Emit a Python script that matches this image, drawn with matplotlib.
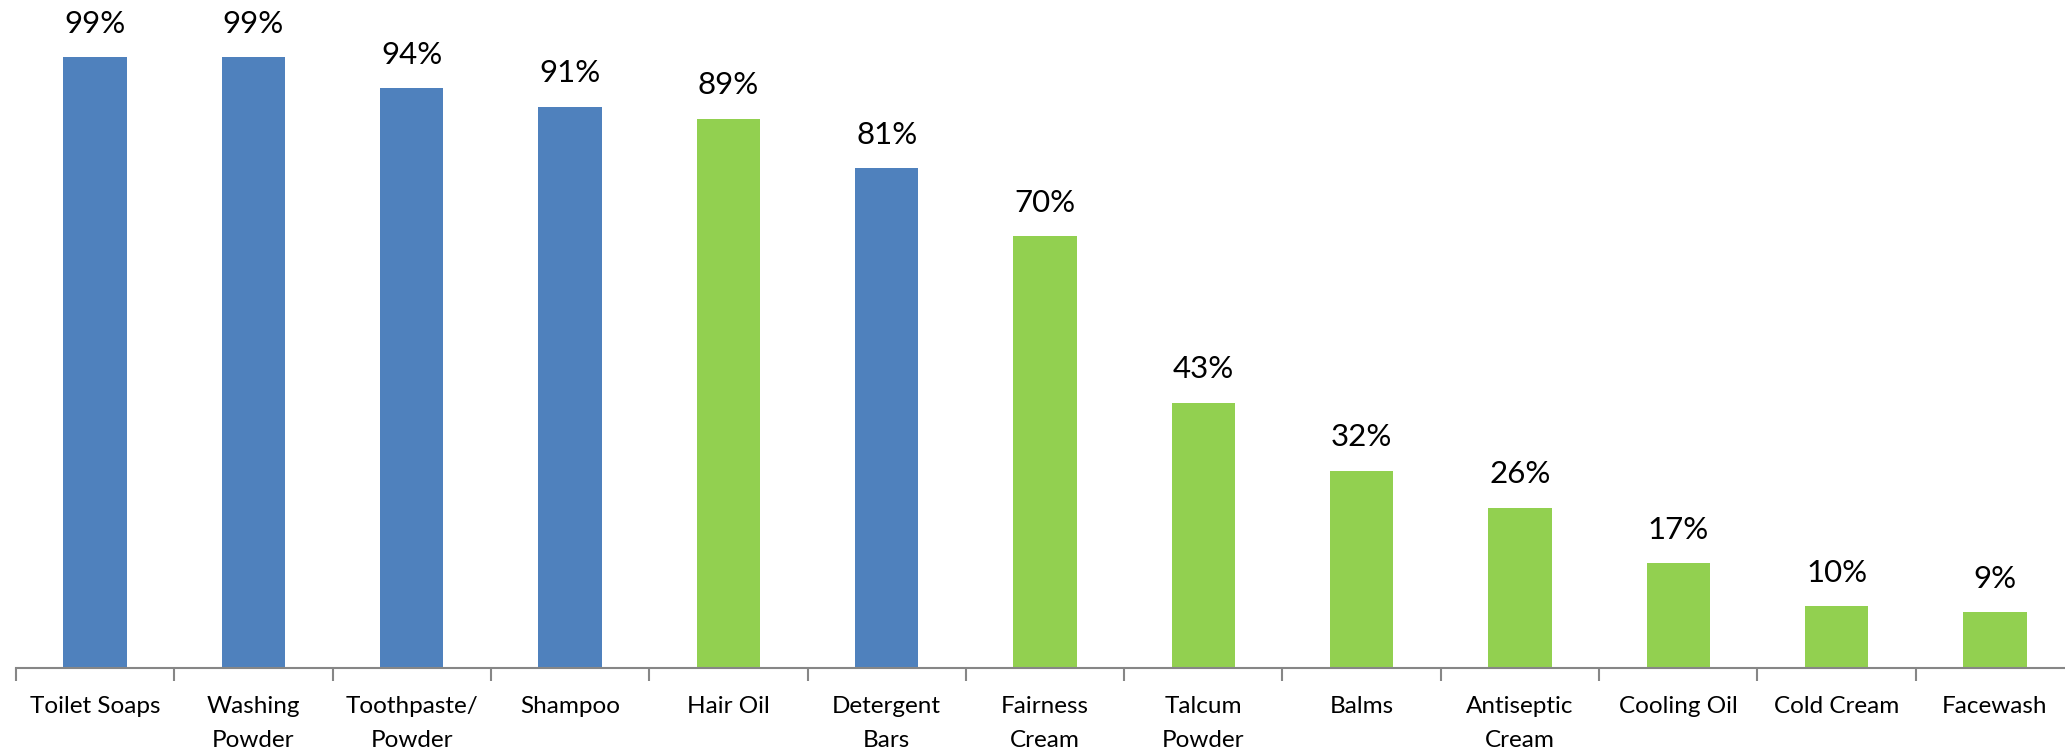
import matplotlib.pyplot as plt
from matplotlib.ticker import FixedLocator

plt.rcParams['font.family'] = ['Lato', 'DejaVu Sans']

# Share of households using each product (%)
categories = ['Toilet Soaps', 'Washing\nPowder', 'Toothpaste/\nPowder', 'Shampoo',
              'Hair Oil', 'Detergent\nBars', 'Fairness\nCream', 'Talcum\nPowder',
              'Balms', 'Antiseptic\nCream', 'Cooling Oil', 'Cold Cream', 'Facewash']
values = [99, 99, 94, 91, 89, 81, 70, 43, 32, 26, 17, 10, 9]
groups = ['blue', 'blue', 'blue', 'blue', 'green', 'blue', 'green', 'green',
          'green', 'green', 'green', 'green', 'green']

palette = {'blue': '#4F81BD', 'green': '#92D050'}
colors = [palette[g] for g in groups]

W, H = 2065, 751
fig = plt.figure(figsize=(W / 100, H / 100), dpi=100)
ax = fig.add_axes([16 / W, 83 / H, 2058 / W, 617 / H])

x = list(range(len(categories)))
bars = ax.bar(x, values, width=0.4, color=colors)

for rect, v in zip(bars, values):
    ax.annotate(f'{v}%', (rect.get_x() + rect.get_width() / 2, v),
                xytext=(0, 14), textcoords='offset points',
                ha='center', va='bottom', fontsize=22.5, color='black')

ax.set_xlim(-0.5, len(categories) - 0.5)
ax.set_ylim(0, 100)

ax.set_xticks(x)
ax.set_xticklabels(categories, fontsize=17.5, linespacing=1.75)
ax.tick_params(axis='x', which='major', length=0, pad=20)
ax.xaxis.set_minor_locator(FixedLocator([i - 0.5 for i in range(len(categories) + 1)]))
ax.tick_params(axis='x', which='minor', length=9, width=1.5, color='#868686')
ax.set_yticks([])

for side in ['top', 'right', 'left']:
    ax.spines[side].set_visible(False)
ax.spines['bottom'].set_color('#868686')
ax.spines['bottom'].set_linewidth(1.5)

fig.savefig('out.png', dpi=100, facecolor='white')
